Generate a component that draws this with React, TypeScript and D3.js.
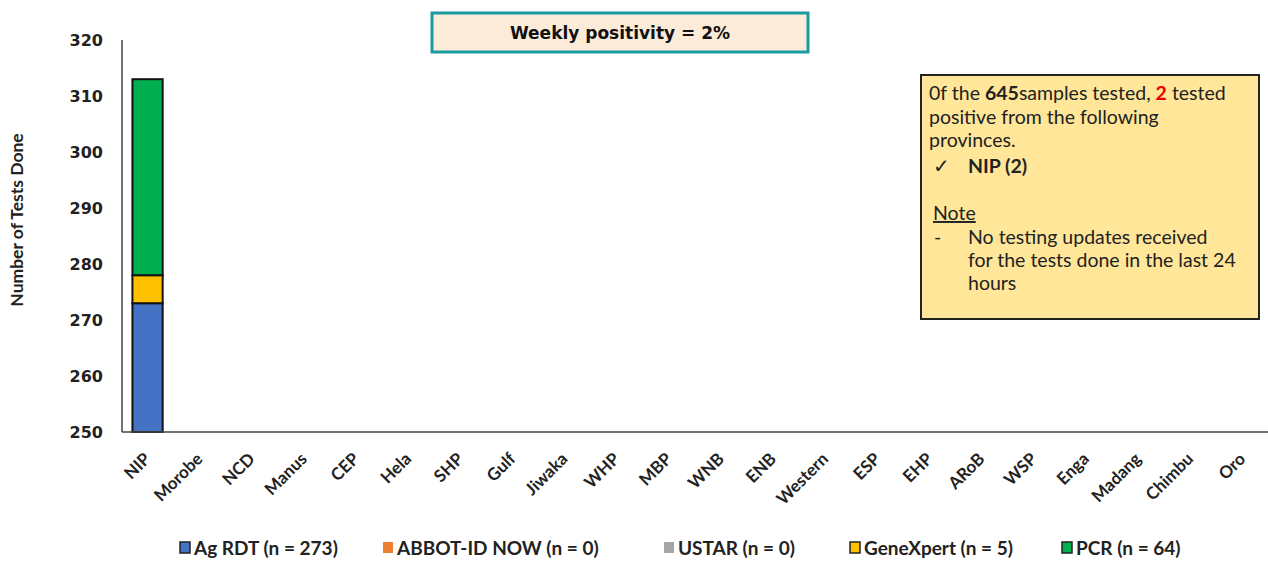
import React from "react";
import * as d3 from "d3";

const categories = ["NIP","Morobe","NCD","Manus","CEP","Hela","SHP","Gulf","Jiwaka","WHP","MBP","WNB","ENB","Western","ESP","EHP","ARoB","WSP","Enga","Madang","Chimbu","Oro"];
const seriesNames = ["Ag RDT", "ABBOT-ID NOW", "USTAR", "GeneXpert", "PCR"];
const legendLabels = ["Ag RDT (n = 273)", "ABBOT-ID NOW (n = 0)", "USTAR (n = 0)", "GeneXpert (n = 5)", "PCR (n = 64)"];
const seriesColors = ["#4472c4", "#ed7d31", "#a5a5a5", "#ffc000", "#00b050"];
const agRdt = [273,0,0,0,0,0,0,0,0,0,0,0,0,0,0,0,0,0,0,0,0,0];
const abbott = [0,0,0,0,0,0,0,0,0,0,0,0,0,0,0,0,0,0,0,0,0,0];
const ustar = [0,0,0,0,0,0,0,0,0,0,0,0,0,0,0,0,0,0,0,0,0,0];
const geneXpert = [5,0,0,0,0,0,0,0,0,0,0,0,0,0,0,0,0,0,0,0,0,0];
const pcr = [35,0,0,0,0,0,0,0,0,0,0,0,0,0,0,0,0,0,0,0,0,0];
const yTicks = [250, 260, 270, 280, 290, 300, 310, 320];

const FONT = "Lato, 'Open Sans', sans-serif";

export default function App() {
  const W = 1268, H = 561;
  const left = 122, right = 1268, top = 40, bottom = 432;
  const x = d3.scaleBand<string>().domain(categories).range([left, right]).paddingInner(0.42).paddingOuter(0.2);
  const y = d3.scaleLinear().domain([250, 320]).range([bottom, top]);
  const seriesData = [agRdt, abbott, ustar, geneXpert, pcr];
  const table = categories.map((c, i) => {
    const o: any = { cat: c };
    seriesNames.forEach((s, k) => (o[s] = seriesData[k][i]));
    return o;
  });
  const stacked = d3.stack<any>().keys(seriesNames)(table);

  const legendX = [180, 383, 664, 850, 1062];

  return (
    <svg width={W} height={H} style={{ position: "absolute", left: 0, top: 0, background: "#fff" }} fontFamily={FONT}>
      <rect x={0} y={0} width={W} height={H} fill="#fff" />
      {stacked.map((layer, k) =>
        layer.map((d, i) => {
          const v0 = Math.max(d[0], 250);
          const v1 = d[1];
          if (v1 - d[0] <= 0 || v1 <= 250) return null;
          return (
            <rect key={k + "-" + i} x={x(categories[i])} width={x.bandwidth()} y={y(v1)} height={y(v0) - y(v1)}
              fill={seriesColors[k]} stroke="#111" strokeWidth={2} />
          );
        })
      )}
      <line x1={left} x2={left} y1={top} y2={bottom} stroke="#444" strokeWidth={1.5} />
      <line x1={left} x2={right} y1={bottom} y2={bottom} stroke="#444" strokeWidth={1.5} />
      {yTicks.map((t) => (
        <text key={t} x={103} y={y(t)} dy="0.35em" textAnchor="end" fontSize={16} fontWeight={700} fill="#222"
          fontFamily="'DejaVu Sans', sans-serif">{t}</text>
      ))}
      <text transform={`translate(23,${220}) rotate(-90)`} textAnchor="middle" fontSize={17.5} fontWeight={700} fill="#222">Number of Tests Done</text>
      {categories.map((c) => {
        const cx = (x(c) as number) + x.bandwidth() / 2;
        return (
          <text key={c} transform={`translate(${cx + 4},${460}) rotate(-45)`} textAnchor="end" fontSize={17} fontWeight={700} fill="#222">{c}</text>
        );
      })}
      <rect x={432} y={13} width={376} height={39} fill="#fdebd9" stroke="#1a9ba1" strokeWidth={3} />
      <text x={620} y={33} dy="0.35em" textAnchor="middle" fontSize={17} fontWeight={700} fill="#111"
        fontFamily="'DejaVu Sans', sans-serif">Weekly positivity = 2%</text>
      <rect x={921} y={75} width={338} height={244} fill="#ffe699" stroke="#222" strokeWidth={2} />
      <g fontSize={19.5} fill="#222">
        <text x={929} y={100}>
          <tspan>0f the </tspan><tspan fontWeight={700}>645</tspan><tspan>samples tested, </tspan>
          <tspan fontWeight={700} fill="#e00">2</tspan><tspan> tested</tspan>
        </text>
        <text x={929} y={124}>positive from the following</text>
        <text x={929} y={147}>provinces.</text>
        <text x={933} y={173} fontFamily="'DejaVu Sans', sans-serif" fontSize={20} fontWeight={700}>✓</text>
        <text x={968} y={173} fontWeight={700}>NIP (2)</text>
        <text x={933} y={220} textDecoration="underline">Note</text>
        <text x={934} y={244}>-</text>
        <text x={968} y={244}>No testing updates received</text>
        <text x={968} y={267}>for the tests done in the last 24</text>
        <text x={968} y={290}>hours</text>
      </g>
      {legendLabels.map((l, k) => (
        <g key={l}>
          <rect x={legendX[k]} y={542} width={10} height={11} fill={seriesColors[k]} stroke={k === 1 || k === 2 ? "none" : "#222"} strokeWidth={1.5} />
          <text x={legendX[k] + 14} y={548} dy="0.35em" fontSize={19} fontWeight={700} fill="#222">{l}</text>
        </g>
      ))}
    </svg>
  );
}
